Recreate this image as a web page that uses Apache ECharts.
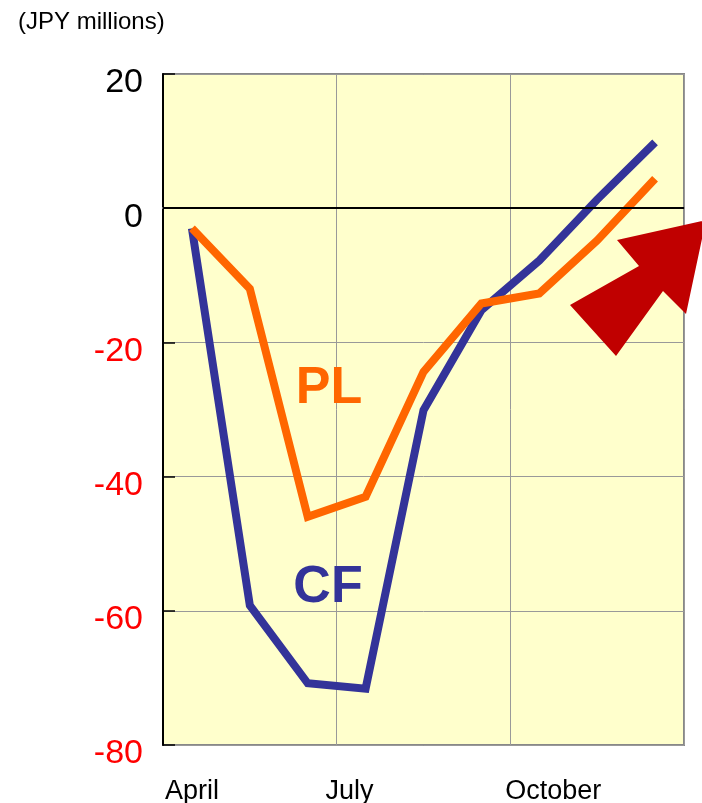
<!DOCTYPE html>
<html>
<head>
<meta charset="utf-8">
<script src="https://cdn.jsdelivr.net/npm/echarts@6/dist/echarts.min.js"></script>
<style>
    html, body { margin: 0; padding: 0; background: #fff; }
    #main_chart { width: 702px; height: 803px; }
</style>
</head>
<body>
<div id="main_chart"></div>
<script>
var months = ['April', 'May', 'June', 'July', 'August', 'September', 'October', 'November', 'December'];
var cfValues = [-3, -59.2, -70.8, -71.6, -30.1, -15.2, -7.8, 1.3, 9.8];   // CF
var plValues = [-3, -12, -46, -43, -24.4, -14.2, -12.7, -4.8, 4.4];       // PL
var yTicks = [-80, -60, -40, -20, 0, 20];

var FONT = '"Liberation Sans", Arial, sans-serif';

var chart = echarts.init(document.getElementById('main_chart'));

var option = {
    animation: false,
    grid: {
        left: 163,
        top: 74,
        width: 521,
        height: 671,
        containLabel: false,
        outerBoundsMode: 'none',
        show: true,
        backgroundColor: '#FFFFCC',
        borderColor: '#888888',
        borderWidth: 2
    },
    xAxis: {
        type: 'category',
        data: months,
        boundaryGap: true,
        axisLine: {
            lineStyle: { color: '#888888', width: 2 }
        },
        axisTick: { show: false },
        axisLabel: {
            interval: 2,
            margin: 33,
            fontSize: 27,
            fontFamily: FONT,
            color: '#000',
            // 原图中标签位置略有偏移
            formatter: function (value) {
                if (value === 'July') return '{jul|' + value + '}';
                if (value === 'October') return '{oct|' + value + '}';
                return value;
            },
            rich: {
                jul: { fontSize: 27, fontFamily: FONT, color: '#000', padding: [0, 32, 0, 0] },
                oct: { fontSize: 27, fontFamily: FONT, color: '#000', padding: [0, 0, 0, 28] }
            }
        },
        splitLine: {
            show: true,
            interval: 2,
            lineStyle: { color: '#999999', width: 1 }
        }
    },
    yAxis: {
        type: 'value',
        min: yTicks[0],
        max: yTicks[yTicks.length - 1],
        interval: 20,
        axisLine: {
            show: true,
            lineStyle: { color: '#000', width: 2 }
        },
        axisTick: {
            show: true,
            inside: true,
            length: 12,
            lineStyle: { color: '#000', width: 1.5 }
        },
        axisLabel: {
            margin: 20,
            fontSize: 34,
            fontFamily: FONT,
            verticalAlign: 'top',
            lineHeight: 18,
            color: function (value) {
                return Number(value) < 0 ? '#FF0000' : '#000000';
            }
        },
        splitLine: {
            lineStyle: { color: '#999999', width: 1 }
        }
    },
    series: [{
        name: 'CF',
        type: 'line',
        data: cfValues,
        symbol: 'none',
        lineStyle: { color: '#333399', width: 8, join: 'miter' },
        markLine: {
            silent: true,
            symbol: 'none',
            label: { show: false },
            lineStyle: { color: '#000', width: 2, type: 'solid' },
            data: [{ yAxis: 0 }]
        },
        z: 3
    }, {
        name: 'PL',
        type: 'line',
        data: plValues,
        symbol: 'none',
        lineStyle: { color: '#FF6600', width: 8, join: 'miter' },
        z: 4
    }],
    graphic: [{
        type: 'text',
        left: 18,
        top: 10,
        style: { text: '(JPY millions)', font: '24px ' + FONT, fill: '#000' }
    }, {
        type: 'text',
        x: 329, y: 389,
        style: { text: 'PL', font: 'bold 52px ' + FONT, fill: '#FF6600', align: 'center', verticalAlign: 'middle' },
        z: 10
    }, {
        type: 'text',
        x: 328, y: 588,
        style: { text: 'CF', font: 'bold 52px ' + FONT, fill: '#333399', align: 'center', verticalAlign: 'middle' },
        z: 10
    }, {
        // 右上角红色箭头
        type: 'polygon',
        shape: {
            points: [[706, 220], [686, 314], [663, 291], [616, 356], [570, 305], [639, 266], [617, 240]]
        },
        style: { fill: '#C00000' },
        z: 10
    }]
};

chart.setOption(option);
</script>
</body>
</html>
